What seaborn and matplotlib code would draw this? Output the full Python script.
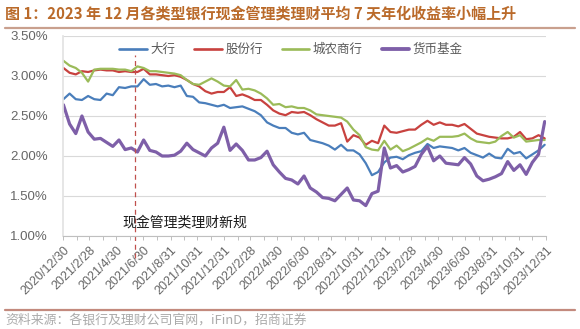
import matplotlib
matplotlib.use("Agg")
import matplotlib.pyplot as plt
import matplotlib.ticker as mticker
from matplotlib.lines import Line2D
import pandas as pd
import seaborn as sns

# Fortnightly observations of 7-day annualised yields (%)
dates = pd.date_range("2020-12-31", periods=79, freq="14D")

big_banks = [
    2.71, 2.78, 2.71, 2.70, 2.75, 2.71, 2.70, 2.78, 2.76, 2.86,
    2.85, 2.87, 2.87, 2.96, 2.89, 2.90, 2.87, 2.88, 2.86, 2.88,
    2.75, 2.74, 2.67, 2.66, 2.64, 2.62, 2.64, 2.60, 2.61, 2.62,
    2.59, 2.56, 2.51, 2.42, 2.38, 2.35, 2.35, 2.29, 2.27, 2.29,
    2.20, 2.18, 2.16, 2.13, 2.08, 2.14, 2.07, 2.07, 2.02, 1.91,
    1.76, 1.80, 1.92, 1.98, 1.99, 1.96, 2.01, 2.04, 2.06, 2.15,
    2.10, 2.12, 2.11, 2.10, 2.07, 2.10, 2.04, 2.01, 1.98, 2.03,
    1.98, 1.97, 2.09, 2.03, 2.05, 1.97, 2.02, 2.07, 2.14,
]
joint_stock = [
    3.10, 3.04, 3.02, 3.06, 3.05, 3.07, 3.08, 3.07, 3.07, 3.05,
    3.06, 3.05, 3.05, 3.09, 3.02, 3.02, 3.01, 3.00, 3.01, 2.99,
    2.95, 2.90, 2.87, 2.81, 2.78, 2.80, 2.80, 2.86, 2.75, 2.77,
    2.74, 2.70, 2.70, 2.64, 2.57, 2.53, 2.51, 2.55, 2.54, 2.55,
    2.51, 2.46, 2.42, 2.38, 2.38, 2.41, 2.18, 2.26, 2.23, 2.14,
    2.19, 2.16, 2.38, 2.30, 2.29, 2.31, 2.33, 2.33, 2.39, 2.44,
    2.39, 2.42, 2.39, 2.39, 2.37, 2.40, 2.34, 2.28, 2.26, 2.24,
    2.23, 2.22, 2.22, 2.24, 2.30, 2.21, 2.22, 2.26, 2.22,
]
city_rural = [
    3.19, 3.13, 3.10, 3.04, 2.93, 3.08, 3.09, 3.09, 3.09, 3.08,
    3.08, 3.06, 3.12, 3.10, 3.06, 3.06, 3.05, 3.04, 3.03, 3.01,
    2.95, 2.90, 2.89, 2.93, 2.97, 2.93, 2.88, 2.87, 2.95, 2.83,
    2.84, 2.82, 2.78, 2.72, 2.64, 2.65, 2.61, 2.62, 2.60, 2.60,
    2.57, 2.52, 2.51, 2.50, 2.49, 2.48, 2.43, 2.33, 2.26, 2.11,
    2.08, 2.07, 2.19, 2.08, 2.13, 2.06, 2.09, 2.13, 2.17, 2.22,
    2.19, 2.24, 2.24, 2.24, 2.25, 2.28, 2.22, 2.18, 2.17, 2.16,
    2.18, 2.25, 2.30, 2.23, 2.26, 2.18, 2.19, 2.20, 2.20,
]
money_funds = [
    2.64, 2.40, 2.28, 2.50, 2.30, 2.21, 2.22, 2.17, 2.12, 2.20,
    2.08, 2.10, 2.05, 2.20, 2.07, 2.05, 2.00, 2.00, 2.01, 2.06,
    2.16, 2.08, 2.04, 2.00, 2.10, 2.16, 2.36, 2.07, 2.15, 2.07,
    1.95, 1.95, 1.98, 2.06, 1.89, 1.80, 1.72, 1.70, 1.65, 1.75,
    1.60, 1.55, 1.48, 1.47, 1.44, 1.52, 1.60, 1.45, 1.44, 1.38,
    1.53, 1.56, 2.10, 1.85, 1.88, 1.80, 1.83, 1.87, 2.02, 2.12,
    1.94, 2.00, 1.91, 1.90, 1.89, 1.98, 1.90, 1.75, 1.69, 1.71,
    1.74, 1.78, 1.93, 1.82, 1.89, 1.77, 1.92, 2.02, 2.43,
]

series_names = ["大行", "股份行", "城农商行", "货币基金"]
series_colors = ["#4A7EBB", "#C8423F", "#9BBB59", "#7E5FA8"]
series_widths = [1.6, 1.6, 1.6, 2.3]

tick_labels = [
    "2020/12/30", "2021/2/28", "2021/4/30", "2021/6/30", "2021/8/31",
    "2021/10/31", "2021/12/31", "2022/2/28", "2022/4/30", "2022/6/30",
    "2022/8/31", "2022/10/31", "2022/12/31", "2023/2/28", "2023/4/30",
    "2023/6/30", "2023/8/31", "2023/10/31", "2023/12/31",
]
y_ticks = [1.0, 1.5, 2.0, 2.5, 3.0, 3.5]

policy_date = "2021-06-11"
policy_text = "现金管理类理财新规"
title = "图 1：2023 年 12 月各类型银行现金管理类理财平均 7 天年化收益率小幅上升"
source = "资料来源：各银行及理财公司官网，iFinD，招商证券"

df = pd.concat(
    [
        pd.DataFrame({"date": dates, "yield": vals, "type": name})
        for name, vals in zip(series_names, [big_banks, joint_stock, city_rural, money_funds])
    ],
    ignore_index=True,
)

sns.set_theme(style="white")
plt.rcParams["font.family"] = ["Liberation Sans", "Noto Sans CJK SC", "DejaVu Sans"]
cjk = ["Noto Sans CJK SC", "DejaVu Sans"]

fig = plt.figure(figsize=(5.8, 3.29), dpi=100)
ax = fig.add_axes([0.1086, 0.2827, 0.8328, 0.6079])

sns.lineplot(
    data=df, x="date", y="yield", hue="type", hue_order=series_names,
    palette=dict(zip(series_names, series_colors)), size="type",
    size_order=series_names, sizes=dict(zip(series_names, series_widths)),
    ax=ax, legend=False,
)
for line, w in zip(ax.lines, series_widths):
    line.set_linewidth(w)

ax.set_xlim(pd.Timestamp("2020-12-30"), pd.Timestamp("2023-12-31"))
ax.set_ylim(1.0, 3.5)
ax.set_yticks(y_ticks)
ax.yaxis.set_major_formatter(mticker.FuncFormatter(lambda v, _: f"{v:.2f}%"))
tick_dates = pd.to_datetime(tick_labels, format="%Y/%m/%d")
ax.set_xticks(tick_dates)
ax.set_xticklabels(tick_labels, rotation=45, ha="right", rotation_mode="anchor")
ax.set_xticks(pd.date_range("2021-01-31", "2023-11-30", freq="ME"), minor=True)
ax.set_xlabel("")
ax.set_ylabel("")

ax.grid(axis="y", color="#D9D9D9", lw=0.8)
ax.grid(axis="x", visible=False)
for side in ("top", "right"):
    ax.spines[side].set_visible(False)
ax.spines["left"].set_color("#E3E3E3")
ax.spines["bottom"].set_color("#BFBFBF")
ax.spines["bottom"].set_linewidth(0.8)
ax.tick_params(axis="x", which="both", bottom=True, length=3, width=0.7,
               color="#BFBFBF", labelsize=9, labelcolor="#666666", pad=3)
ax.tick_params(axis="y", left=False, labelsize=9.5, labelcolor="#666666", pad=5)

handles = [Line2D([], [], color=c, lw=w * 1.2) for c, w in zip(series_colors, series_widths)]
ax.legend(handles, series_names, loc="upper center", bbox_to_anchor=(0.472, 1.02),
          ncol=4, frameon=False, handlelength=2.2, columnspacing=1.5,
          handletextpad=0.3, prop={"family": cjk, "size": 9}, labelcolor="#595959")

ax.axvline(pd.Timestamp(policy_date), ymin=-0.11, ymax=0.905, clip_on=False,
           color="#C0504D", lw=0.9, ls=(0, (4, 3)))
ax.text(pd.Timestamp("2021-10-03"), 1.17, policy_text, ha="center", va="center",
        fontsize=10, family=cjk, color="#1A1A1A")

fig.text(0.009, 0.958, title, fontsize=10.8, fontweight="bold", color="#BA6A2A",
         family=cjk, va="center", ha="left")
fig.add_artist(Line2D([0.009, 0.991], [0.915, 0.915], color="#C9A08E", lw=1.6))
fig.add_artist(Line2D([0.009, 0.991], [0.058, 0.058], color="#C38A7E", lw=1.6))
fig.text(0.009, 0.026, source, fontsize=9.3, color="#ABABAB", family=cjk,
         va="center", ha="left")

fig.savefig("out.png", dpi=100)
